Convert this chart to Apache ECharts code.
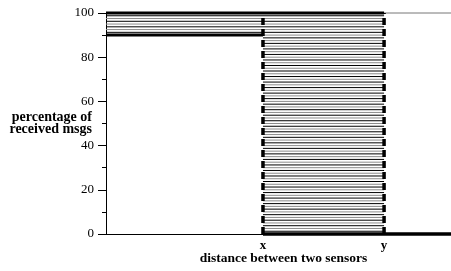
<!DOCTYPE html>
<html>
<head>
<meta charset="utf-8">
<script src="https://cdn.jsdelivr.net/npm/echarts@6/dist/echarts.min.js"></script>
<style>
html, body { margin: 0; padding: 0; background: #fff; }
#chart { width: 451px; height: 271px; }
</style>
</head>
<body>
<div id="chart"></div>
<script>
// ========== Data ==========
// positions of the two marked distances on the x axis (0..100 scale)
const xMark = 45.5;
const yMark = 80.6;
const sensorLabels = ['x', 'y'];

// percentage levels of the hatch lines (black / grey alternate)
const blackLevels = [1.25, 3.75, 6.25, 8.75, 11.25, 13.75, 16.25, 18.75, 21.25, 23.75,
    26.25, 28.75, 31.25, 33.75, 36.25, 38.75, 41.25, 43.75, 46.25, 48.75,
    51.25, 53.75, 56.25, 58.75, 61.25, 63.75, 66.25, 68.75, 71.25, 73.75,
    76.25, 78.75, 81.25, 83.75, 86.25, 88.75, 91.25, 93.75, 96.25, 98.75];
const grayLevels = [2.5, 5, 7.5, 10, 12.5, 15, 17.5, 20, 22.5, 25,
    27.5, 30, 32.5, 35, 37.5, 40, 42.5, 45, 47.5, 50,
    52.5, 55, 57.5, 60, 62.5, 65, 67.5, 70, 72.5, 75,
    77.5, 80, 82.5, 85, 87.5, 90, 92.5, 95, 97.5];
const hatchFloor = 90; // above this level the hatch starts at distance 0

// the outline curves
const topLine = [[0, 100], [yMark, 100]];
const topTail = [[yMark, 100], [100, 100]];
const leftLine = [[0, 90], [xMark, 90]];
const bottomLine = [[xMark, 0], [100, 0]];
const xWall = [[xMark, 0], [xMark, 100]];
const yWall = [[yMark, 0], [yMark, 100]];

// ========== Series ==========
const serif = 'Liberation Serif';
let seriesData = [];

function hatch(levels, color, width) {
    levels.forEach(l => {
        const start = l > hatchFloor ? 0 : xMark;
        seriesData.push({
            type: 'line', symbol: 'none', silent: true, clip: false, z: 1,
            lineStyle: { color: color, width: width },
            data: [[start, l], [yMark, l]]
        });
    });
}
hatch(grayLevels, '#8c8c8c', 1);
hatch(blackLevels, '#000', 1);

function outline(data, color, width, type) {
    seriesData.push({
        type: 'line', symbol: 'none', silent: true, clip: false, z: 3,
        lineStyle: { color: color, width: width, type: type || 'solid', cap: 'butt' },
        data: data
    });
}
outline(topTail, '#777', 1);
outline(topLine, '#000', 3);
outline(leftLine, '#000', 3);
outline(bottomLine, '#000', 3.5);
outline(xWall, '#000', 3.5, [7, 4]);
outline(yWall, '#000', 3.5, [7, 4]);

// ========== Chart ==========
const myChart = echarts.init(document.getElementById('chart'));
const option = {
    animation: false,
    grid: { left: 106, right: 0, top: 13, bottom: 36 },
    xAxis: {
        type: 'value', min: 0, max: 100,
        name: 'distance between two sensors',
        nameLocation: 'middle',
        nameGap: 18,
        nameMoveOverlap: false,
        nameTextStyle: { fontFamily: serif, fontWeight: 'bold', fontSize: 13.5, color: '#000', padding: [0, 0, 0, 10] },
        axisLine: { lineStyle: { color: '#000', width: 1 } },
        axisTick: { show: false },
        splitLine: { show: false },
        axisLabel: {
            customValues: [xMark, yMark],
            formatter: v => (v === xMark ? sensorLabels[0] : sensorLabels[1]),
            fontFamily: serif, fontWeight: 'bold', fontSize: 13, color: '#000', margin: 5
        }
    },
    yAxis: {
        type: 'value', min: 0, max: 100, interval: 20,
        name: 'percentage of\nreceived msgs',
        nameLocation: 'middle',
        nameRotate: 0,
        nameGap: 14,
        nameMoveOverlap: false,
        nameTextStyle: { fontFamily: serif, fontWeight: 'bold', fontSize: 14, color: '#000', lineHeight: 12.5 },
        axisLine: { lineStyle: { color: '#000', width: 1 } },
        axisTick: { length: 8, lineStyle: { color: '#000' } },
        minorTick: { show: true, splitNumber: 2, length: 4, lineStyle: { color: '#000' } },
        splitLine: { show: false },
        axisLabel: { fontFamily: serif, fontSize: 13, color: '#000', margin: 12 }
    },
    series: seriesData
};
myChart.setOption(option);
</script>
</body>
</html>
